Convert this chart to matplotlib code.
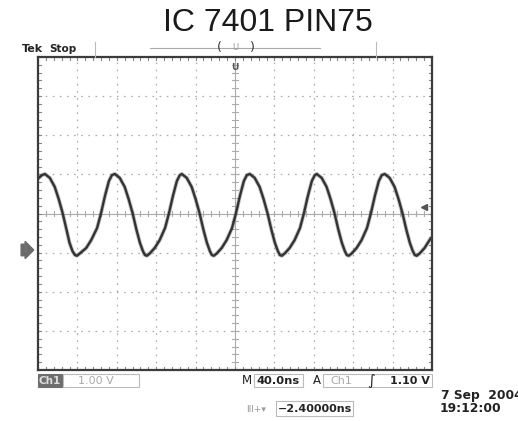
import matplotlib.pyplot as plt
from matplotlib.patches import Rectangle

# scope settings
time_per_div = 40.0      # ns
volts_per_div = 1.00     # V
ground_div = -0.93       # ground marker position, divisions from center
trigger_level = 1.10     # V

# captured trace: time (ns) and Ch1 voltage (V), one row per cycle
trace_t = [
    -200, -196,
    -193, -188, -183, -179, -175, -171, -168, -165, -162.5, -160.5, -157.5, -151, -146, -140, -136, -132, -128, -125,
    -122, -117, -112, -108, -104, -100, -96.5, -93.5, -91.5, -89.5, -86.5, -81.5, -76.5, -71, -67, -63, -59, -56,
    -54, -49, -44, -40, -36, -32, -28.5, -25.5, -23.5, -21.5, -18.5, -13.5, -8.5, -3, 1, 5, 9, 12,
    15, 20, 25, 29, 33, 37, 40.5, 43.5, 45.5, 47.5, 50.5, 55.5, 60.5, 66, 70, 74, 78, 81,
    83, 88, 93, 97, 101, 105, 108.5, 111.5, 113.5, 115.5, 118.5, 123.5, 128.5, 134, 138, 142, 146, 149,
    152, 157, 162, 166, 170, 174, 177.5, 180.5, 182.5, 184.5, 187.5, 192.5, 197.5, 200,
]
trace_v = [
    1.82, 1.91,
    1.94, 1.84, 1.61, 1.30, 0.94, 0.51, 0.18, -0.03, -0.13, -0.15, -0.09, 0.05, 0.25, 0.56, 0.94, 1.38, 1.76, 1.91,
    1.94, 1.84, 1.61, 1.30, 0.94, 0.51, 0.18, -0.03, -0.13, -0.15, -0.09, 0.05, 0.25, 0.56, 0.94, 1.38, 1.76, 1.91,
    1.94, 1.84, 1.61, 1.30, 0.94, 0.51, 0.18, -0.03, -0.13, -0.15, -0.09, 0.05, 0.25, 0.56, 0.94, 1.38, 1.76, 1.91,
    1.94, 1.84, 1.61, 1.30, 0.94, 0.51, 0.18, -0.03, -0.13, -0.15, -0.09, 0.05, 0.25, 0.56, 0.94, 1.38, 1.76, 1.91,
    1.94, 1.84, 1.61, 1.30, 0.94, 0.51, 0.18, -0.03, -0.13, -0.15, -0.09, 0.05, 0.25, 0.56, 0.94, 1.38, 1.76, 1.91,
    1.94, 1.84, 1.61, 1.30, 0.94, 0.51, 0.18, -0.03, -0.13, -0.15, -0.09, 0.05, 0.25, 0.32,
]

W, H = 518, 421
fig = plt.figure(figsize=(W / 100, H / 100), dpi=100)
fig.patch.set_facecolor('white')

def fx(px):
    return px / W

def fy(py):
    return 1 - py / H

# graticule area
ax = fig.add_axes([fx(38), fy(370), fx(432) - fx(38), fy(57) - fy(370)])
ax.set_xlim(-5 * time_per_div, 5 * time_per_div)
v0 = -ground_div * volts_per_div  # voltage at screen center
ax.set_ylim(v0 - 4 * volts_per_div, v0 + 4 * volts_per_div)
ax.set_xticks([])
ax.set_yticks([])
for s in ax.spines.values():
    s.set_linewidth(1.6)
    s.set_color('#3c3c3c')

grid_c = '#ababab'
dots = (0, (1.3, 4.4))
for i in range(-4, 5):
    if i != 0:
        ax.axvline(i * time_per_div, color=grid_c, lw=0.9, ls=dots)
for j in range(-3, 4):
    if j != 0:
        ax.axhline(v0 + j * volts_per_div, color=grid_c, lw=0.9, ls=dots)
ax.axvline(0, color=grid_c, lw=0.8)
ax.axhline(v0, color=grid_c, lw=0.8)

# minor ticks on center axes and along the border
sub_t = [k * time_per_div / 5 for k in range(-25, 26)]
sub_v = [v0 + k * volts_per_div / 5 for k in range(-20, 21)]
dt = 0.07 * volts_per_div
dx = 0.07 * time_per_div
ytop, ybot = ax.get_ylim()[1], ax.get_ylim()[0]
for t in sub_t:
    ax.plot([t, t], [v0 - dt, v0 + dt], color=grid_c, lw=0.8)
    ax.plot([t, t], [ytop, ytop - dt], color='#888888', lw=0.8)
    ax.plot([t, t], [ybot, ybot + dt], color='#888888', lw=0.8)
for v in sub_v:
    ax.plot([-dx, dx], [v, v], color=grid_c, lw=0.8)
    ax.plot([-200, -200 + dx], [v, v], color='#888888', lw=0.8)
    ax.plot([200, 200 - dx], [v, v], color='#888888', lw=0.8)

# Ch1 trace
ax.plot(trace_t, trace_v, color='#666666', lw=2.9, alpha=0.4, solid_capstyle='round',
        solid_joinstyle='round')
ax.plot(trace_t, trace_v, color='#333333', lw=1.7, solid_capstyle='round',
        solid_joinstyle='round')

# trigger level arrow and trigger position marker
ax.plot([192], [trigger_level], marker='<', ms=4.5, color='#555555')
ax.text(0, ytop - 0.28, 'U', ha='center', va='center', fontsize=6.5,
        fontweight='bold', color='#555555')

# title
fig.text(fx(268), fy(23), 'IC 7401 PIN75', ha='center', va='center',
         fontsize=23, family='Liberation Sans', color='#1a1a1a')

# top status bar
fig.text(fx(22), fy(49), 'Tek', ha='left', va='center', fontsize=8,
         fontweight='heavy', color='#222222')
fig.text(fx(49), fy(49), 'Stop', ha='left', va='center', fontsize=7.5,
         fontweight='bold', color='#222222')
fig.add_artist(plt.Line2D([fx(95), fx(95)], [fy(57), fy(42)], color='#bbbbbb', lw=0.8))
fig.add_artist(plt.Line2D([fx(376), fx(376)], [fy(57), fy(42)], color='#bbbbbb', lw=0.8))
fig.add_artist(plt.Line2D([fx(150), fx(320)], [fy(48), fy(48)], color='#aaaaaa', lw=0.8))
fig.text(fx(219), fy(47), '(', ha='center', va='center', fontsize=9, color='#333333')
fig.text(fx(252), fy(47), ')', ha='center', va='center', fontsize=9, color='#333333')
fig.text(fx(235), fy(47), 'U', ha='center', va='center', fontsize=6, color='#999999')

# ground marker for Ch1
fig.text(fx(25), fy(250), '1', ha='center', va='center', fontsize=6, color='#777777',
         bbox=dict(boxstyle='rarrow,pad=0.15', fc='#6a6a6a', ec='#6a6a6a'))

# bottom readouts
def box(x0, y0, x1, y1, fc='white', ec='#bbbbbb'):
    fig.add_artist(Rectangle((fx(x0), fy(y1)), fx(x1) - fx(x0), fy(y0) - fy(y1),
                             fc=fc, ec=ec, lw=0.8, transform=fig.transFigure))

box(38, 374, 62, 387, fc='#6e6e6e', ec='#6e6e6e')
fig.text(fx(50), fy(380.5), 'Ch1', ha='center', va='center', fontsize=7.5,
         fontweight='bold', color='#dddddd')
box(63, 374, 139, 387)
fig.text(fx(78), fy(380.5), '1.00 V', ha='left', va='center', fontsize=8, color='#aaaaaa')
fig.text(fx(252), fy(380.5), 'M', ha='right', va='center', fontsize=8.5, color='#222222')
box(254, 374, 303, 387)
fig.text(fx(256), fy(380.5), '40.0ns', ha='left', va='center', fontsize=8.2,
         fontweight='bold', color='#222222')
fig.text(fx(317), fy(380.5), 'A', ha='center', va='center', fontsize=8.5, color='#222222')
box(323, 374, 432, 387)
fig.text(fx(330), fy(380.5), 'Ch1', ha='left', va='center', fontsize=8, color='#aaaaaa')
fig.text(fx(371), fy(380.5), r'$\mathbf{\int}$', ha='center', va='center', fontsize=7.5,
         color='#222222')
fig.text(fx(430), fy(380.5), '1.10 V', ha='right', va='center', fontsize=8,
         fontweight='bold', color='#222222')

fig.text(fx(246), fy(409), 'III+\u25be', ha='left', va='center', fontsize=6.5, color='#999999')
box(276, 401, 353, 416)
fig.text(fx(278), fy(408.5), '\u22122.40000ns', ha='left', va='center', fontsize=8,
         fontweight='bold', color='#222222')

fig.text(fx(441), fy(396), '7 Sep  2004', ha='left', va='center', fontsize=8.8,
         fontweight='bold', color='#222222')
fig.text(fx(440), fy(409), '19:12:00', ha='left', va='center', fontsize=8.8,
         fontweight='bold', color='#222222')

fig.savefig('out.png', dpi=100, facecolor='white')
